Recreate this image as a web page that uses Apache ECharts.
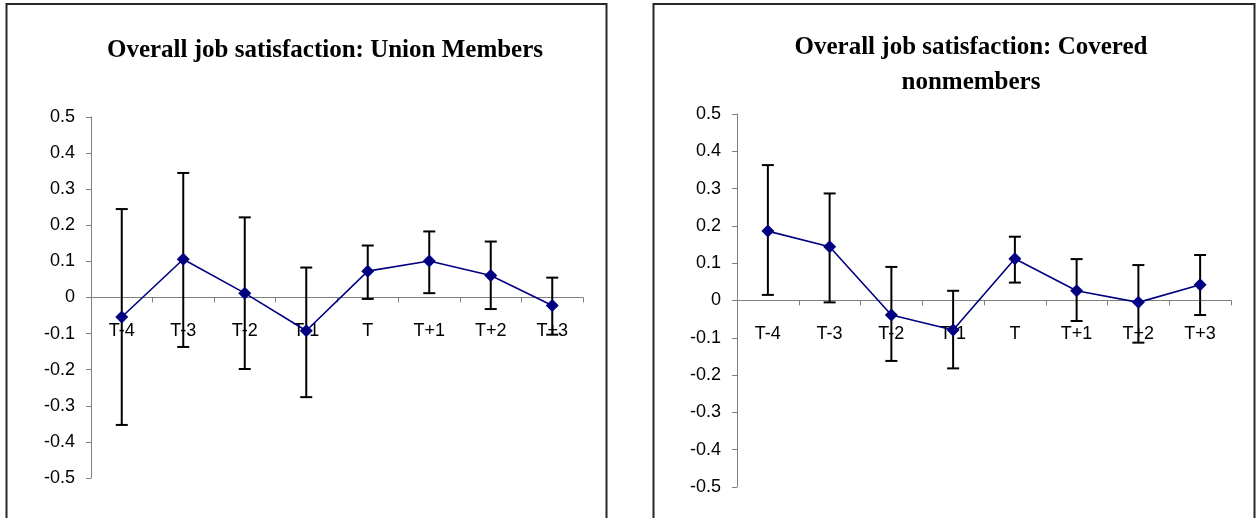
<!DOCTYPE html>
<html>
<head>
<meta charset="utf-8">
<script src="https://cdn.jsdelivr.net/npm/echarts@6/dist/echarts.min.js"></script>
<style>
html,body{margin:0;padding:0;background:#fff;}
#c{width:1257px;height:518px;}
</style>
</head>
<body>
<div id="c"></div>
<script>
var categories = ['T-4','T-3','T-2','T-1','T','T+1','T+2','T+3'];
var unionMean = [-0.054, 0.106, 0.012, -0.092, 0.073, 0.101, 0.061, -0.022];
var unionLow  = [-0.353, -0.137, -0.198, -0.276, -0.004, 0.012, -0.032, -0.103];
var unionHigh = [0.245, 0.345, 0.222, 0.083, 0.144, 0.183, 0.155, 0.055];
var coveredMean = [0.186, 0.144, -0.039, -0.079, 0.112, 0.026, -0.005, 0.042];
var coveredLow  = [0.015, -0.005, -0.162, -0.182, 0.048, -0.055, -0.113, -0.039];
var coveredHigh = [0.363, 0.287, 0.090, 0.026, 0.171, 0.111, 0.095, 0.122];
var titleLeft = 'Overall job satisfaction: Union Members';
var titleRight = 'Overall job satisfaction: Covered\nnonmembers';

var chart = echarts.init(document.getElementById('c'), null, {renderer:'canvas'});

var grids = [
  {left:91, top:117, width:492, height:361},
  {left:737, top:114, width:494, height:373}
];

function errData(low, high){
  return low.map(function(v,i){ return [i, v, high[i]]; });
}
function errRender(params, api){
  var x = api.value(0);
  var lo = api.coord([x, api.value(1)]);
  var hi = api.coord([x, api.value(2)]);
  var hw = 6;
  var st = {stroke:'#000', lineWidth:2};
  return {type:'group', children:[
    {type:'line', shape:{x1:lo[0],y1:lo[1],x2:hi[0],y2:hi[1]}, style:st},
    {type:'line', shape:{x1:hi[0]-hw,y1:hi[1],x2:hi[0]+hw,y2:hi[1]}, style:st},
    {type:'line', shape:{x1:lo[0]-hw,y1:lo[1],x2:lo[0]+hw,y2:lo[1]}, style:st}
  ]};
}
var axisGrey = '#7f7f7f';
function xAx(idx){
  // move the whole axis (line, ticks, labels) up to the zero line of the y scale (-0.5..0.5)
  var off = -grids[idx].height / 2;
  return {type:'category', gridIndex:idx, data:categories, boundaryGap:true, position:'bottom', offset:off,
    axisLine:{onZero:false, lineStyle:{color:axisGrey, width:1}},
    axisTick:{show:true, length:5, lineStyle:{color:axisGrey}},
    axisLabel:{color:'#000', fontFamily:'Liberation Sans', fontSize:18, margin:25, interval:0},
    splitLine:{show:false}, z:0};
}
function yAx(idx){
  return {type:'value', gridIndex:idx, min:-0.5, max:0.5, interval:0.1,
    axisLine:{show:true, lineStyle:{color:axisGrey, width:1}},
    axisTick:{show:true, length:5, lineStyle:{color:axisGrey}},
    axisLabel:{color:'#000', fontFamily:'Liberation Sans', fontSize:18, margin:16,
      formatter:function(v){ var r = Math.round(v*10)/10; return r===0 ? '0' : r.toFixed(1); }},
    splitLine:{show:false}};
}
function lineSeries(idx, data){
  return {type:'line', xAxisIndex:idx, yAxisIndex:idx, data:data, z:5,
    symbol:'diamond', symbolSize:[13,13], showAllSymbol:true,
    lineStyle:{color:'#000080', width:1.6}, itemStyle:{color:'#000080'},
    animation:false};
}
function errSeries(idx, low, high){
  return {type:'custom', xAxisIndex:idx, yAxisIndex:idx, data:errData(low, high),
    renderItem:errRender, z:4, animation:false, encode:{x:0, y:[1,2]}};
}

chart.setOption({
  animation:false,
  grid:grids,
  xAxis:[xAx(0), xAx(1)],
  yAxis:[yAx(0), yAx(1)],
  series:[
    errSeries(0, unionLow, unionHigh),
    lineSeries(0, unionMean),
    errSeries(1, coveredLow, coveredHigh),
    lineSeries(1, coveredMean)
  ],
  graphic:[
    {type:'rect', shape:{x:6.5, y:4, width:600, height:540}, style:{fill:null, stroke:'#262626', lineWidth:2}, z:-1},
    {type:'rect', shape:{x:653.5, y:4, width:601, height:540}, style:{fill:null, stroke:'#262626', lineWidth:2}, z:-1},
    {type:'text', x:325, y:51, style:{text:titleLeft, font:'bold 25px "Liberation Serif"', fill:'#000', textAlign:'center', textVerticalAlign:'middle'}},
    {type:'text', x:971, y:65, style:{text:titleRight, font:'bold 25px "Liberation Serif"', lineHeight:35, fill:'#000', textAlign:'center', textVerticalAlign:'middle'}}
  ]
});
</script>
</body>
</html>
